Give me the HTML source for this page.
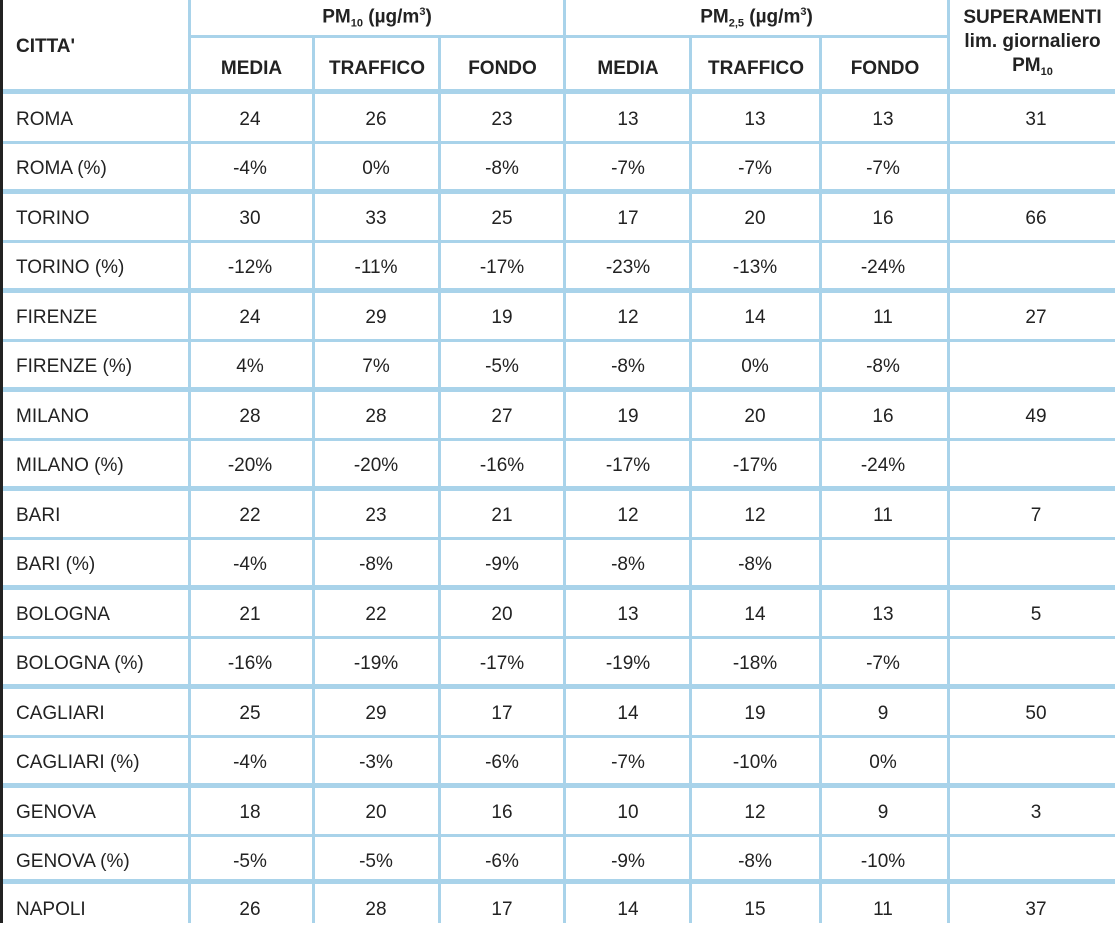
<!DOCTYPE html>
<html><head><meta charset="utf-8"><style>
body{margin:0;width:1115px;height:923px;background:#fff;position:relative;overflow:hidden;font-family:"Liberation Sans Narrow","Liberation Sans",sans-serif;color:#222;}
.v{position:absolute;background:#a9d3ea;width:3px;}
.h{position:absolute;background:#a9d3ea;left:0;width:1115px;}
.r{position:absolute;left:0;width:1115px;height:49px;font-size:19px;}
.r span{position:absolute;top:0;line-height:52px;text-align:center;width:120px;margin-left:-60px;}
.r span.c{left:16px;margin-left:0;text-align:left;width:170px;}
.hd{position:absolute;font-weight:bold;font-size:19px;text-align:center;}
sub{font-size:11px;vertical-align:-4px;}
sup{font-size:11px;}
</style></head><body>
<div class="v" style="left:188px;top:0;height:923px"></div>
<div class="v" style="left:563px;top:0;height:923px"></div>
<div class="v" style="left:947px;top:0;height:923px"></div>
<div class="v" style="left:312px;top:36px;height:887px"></div>
<div class="v" style="left:438px;top:36px;height:887px"></div>
<div class="v" style="left:689px;top:36px;height:887px"></div>
<div class="v" style="left:819px;top:36px;height:887px"></div>
<div class="h" style="left:188px;width:760px;top:35px;height:3px"></div>

<div class="hd" style="left:16px;top:36px;text-align:left">CITTA'</div>
<div class="hd" style="left:190px;width:374px;top:6px">PM<sub>10</sub> (µg/m<sup>3</sup>)</div>
<div class="hd" style="left:565px;width:383px;top:6px">PM<sub>2,5</sub> (µg/m<sup>3</sup>)</div>
<div class="hd" style="left:950px;width:165px;top:6px;line-height:24px">SUPERAMENTI<br>lim. giornaliero<br>PM<sub>10</sub></div>
<div class="hd" style="left:190px;width:123px;top:58px">MEDIA</div>
<div class="hd" style="left:315px;width:124px;top:58px">TRAFFICO</div>
<div class="hd" style="left:441px;width:123px;top:58px">FONDO</div>
<div class="hd" style="left:566px;width:124px;top:58px">MEDIA</div>
<div class="hd" style="left:692px;width:128px;top:58px">TRAFFICO</div>
<div class="hd" style="left:822px;width:126px;top:58px">FONDO</div>

<div class="h" style="top:89px;height:5px"></div>
<div class="r" style="top:94px"><span class="c">ROMA</span><span style="left:250px">24</span><span style="left:376px">26</span><span style="left:502px">23</span><span style="left:628px">13</span><span style="left:755px">13</span><span style="left:883px">13</span><span style="left:1036px">31</span></div>
<div class="h" style="top:141px;height:3px"></div>
<div class="r" style="top:143px"><span class="c">ROMA (%)</span><span style="left:250px">-4%</span><span style="left:376px">0%</span><span style="left:502px">-8%</span><span style="left:628px">-7%</span><span style="left:755px">-7%</span><span style="left:883px">-7%</span></div>
<div class="h" style="top:189px;height:5px"></div>
<div class="r" style="top:193px"><span class="c">TORINO</span><span style="left:250px">30</span><span style="left:376px">33</span><span style="left:502px">25</span><span style="left:628px">17</span><span style="left:755px">20</span><span style="left:883px">16</span><span style="left:1036px">66</span></div>
<div class="h" style="top:240px;height:3px"></div>
<div class="r" style="top:242px"><span class="c">TORINO (%)</span><span style="left:250px">-12%</span><span style="left:376px">-11%</span><span style="left:502px">-17%</span><span style="left:628px">-23%</span><span style="left:755px">-13%</span><span style="left:883px">-24%</span></div>
<div class="h" style="top:288px;height:5px"></div>
<div class="r" style="top:292px"><span class="c">FIRENZE</span><span style="left:250px">24</span><span style="left:376px">29</span><span style="left:502px">19</span><span style="left:628px">12</span><span style="left:755px">14</span><span style="left:883px">11</span><span style="left:1036px">27</span></div>
<div class="h" style="top:339px;height:3px"></div>
<div class="r" style="top:341px"><span class="c">FIRENZE (%)</span><span style="left:250px">4%</span><span style="left:376px">7%</span><span style="left:502px">-5%</span><span style="left:628px">-8%</span><span style="left:755px">0%</span><span style="left:883px">-8%</span></div>
<div class="h" style="top:387px;height:5px"></div>
<div class="r" style="top:391px"><span class="c">MILANO</span><span style="left:250px">28</span><span style="left:376px">28</span><span style="left:502px">27</span><span style="left:628px">19</span><span style="left:755px">20</span><span style="left:883px">16</span><span style="left:1036px">49</span></div>
<div class="h" style="top:438px;height:3px"></div>
<div class="r" style="top:440px"><span class="c">MILANO (%)</span><span style="left:250px">-20%</span><span style="left:376px">-20%</span><span style="left:502px">-16%</span><span style="left:628px">-17%</span><span style="left:755px">-17%</span><span style="left:883px">-24%</span></div>
<div class="h" style="top:486px;height:5px"></div>
<div class="r" style="top:490px"><span class="c">BARI</span><span style="left:250px">22</span><span style="left:376px">23</span><span style="left:502px">21</span><span style="left:628px">12</span><span style="left:755px">12</span><span style="left:883px">11</span><span style="left:1036px">7</span></div>
<div class="h" style="top:537px;height:3px"></div>
<div class="r" style="top:539px"><span class="c">BARI (%)</span><span style="left:250px">-4%</span><span style="left:376px">-8%</span><span style="left:502px">-9%</span><span style="left:628px">-8%</span><span style="left:755px">-8%</span></div>
<div class="h" style="top:585px;height:5px"></div>
<div class="r" style="top:589px"><span class="c">BOLOGNA</span><span style="left:250px">21</span><span style="left:376px">22</span><span style="left:502px">20</span><span style="left:628px">13</span><span style="left:755px">14</span><span style="left:883px">13</span><span style="left:1036px">5</span></div>
<div class="h" style="top:636px;height:3px"></div>
<div class="r" style="top:638px"><span class="c">BOLOGNA (%)</span><span style="left:250px">-16%</span><span style="left:376px">-19%</span><span style="left:502px">-17%</span><span style="left:628px">-19%</span><span style="left:755px">-18%</span><span style="left:883px">-7%</span></div>
<div class="h" style="top:684px;height:5px"></div>
<div class="r" style="top:688px"><span class="c">CAGLIARI</span><span style="left:250px">25</span><span style="left:376px">29</span><span style="left:502px">17</span><span style="left:628px">14</span><span style="left:755px">19</span><span style="left:883px">9</span><span style="left:1036px">50</span></div>
<div class="h" style="top:735px;height:3px"></div>
<div class="r" style="top:737px"><span class="c">CAGLIARI (%)</span><span style="left:250px">-4%</span><span style="left:376px">-3%</span><span style="left:502px">-6%</span><span style="left:628px">-7%</span><span style="left:755px">-10%</span><span style="left:883px">0%</span></div>
<div class="h" style="top:783px;height:5px"></div>
<div class="r" style="top:787px"><span class="c">GENOVA</span><span style="left:250px">18</span><span style="left:376px">20</span><span style="left:502px">16</span><span style="left:628px">10</span><span style="left:755px">12</span><span style="left:883px">9</span><span style="left:1036px">3</span></div>
<div class="h" style="top:834px;height:3px"></div>
<div class="r" style="top:836px"><span class="c">GENOVA (%)</span><span style="left:250px">-5%</span><span style="left:376px">-5%</span><span style="left:502px">-6%</span><span style="left:628px">-9%</span><span style="left:755px">-8%</span><span style="left:883px">-10%</span></div>
<div class="h" style="top:879px;height:5px"></div>
<div class="r" style="top:884px"><span class="c">NAPOLI</span><span style="left:250px">26</span><span style="left:376px">28</span><span style="left:502px">17</span><span style="left:628px">14</span><span style="left:755px">15</span><span style="left:883px">11</span><span style="left:1036px">37</span></div>
<div style="position:absolute;left:0;top:0;width:3px;height:923px;background:#222"></div>
</body></html>
